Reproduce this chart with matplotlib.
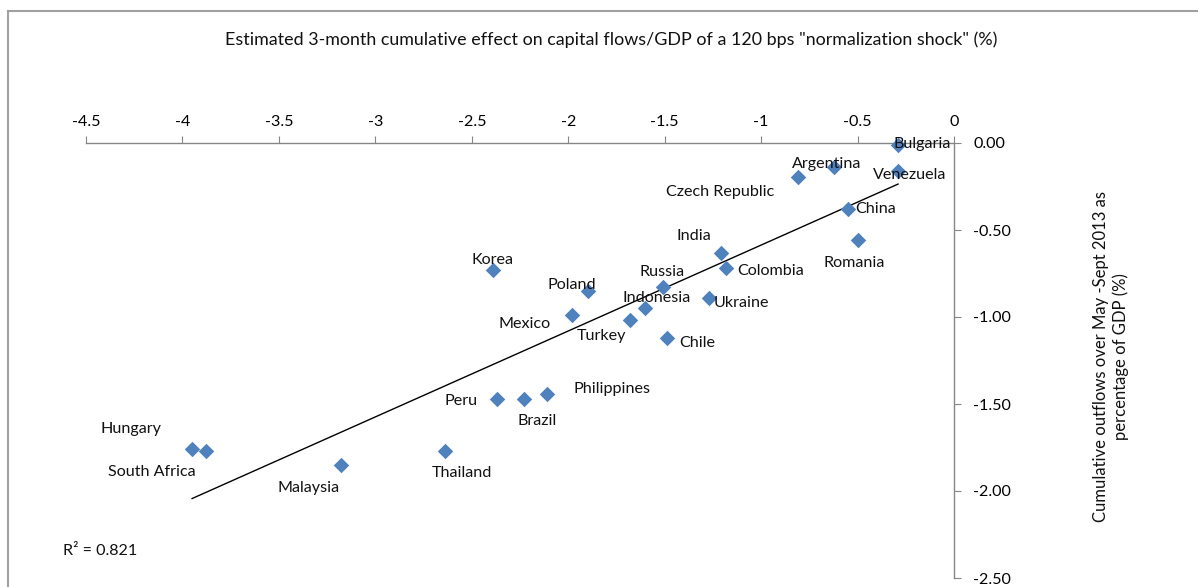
import matplotlib
matplotlib.use("Agg")
import matplotlib.pyplot as plt
from matplotlib.lines import Line2D
import numpy as np

plt.rcParams['font.family'] = ['Lato', 'DejaVu Sans']

countries = ["Bulgaria", "Venezuela", "Argentina", "Czech Republic", "China", "Romania",
             "India", "Colombia", "Russia", "Ukraine", "Indonesia", "Turkey", "Chile",
             "Poland", "Korea", "Mexico", "Philippines", "Brazil", "Peru", "Thailand",
             "Malaysia", "Hungary", "South Africa"]
shock_effect = [-0.29, -0.29, -0.62, -0.81, -0.55, -0.50,
                -1.21, -1.18, -1.51, -1.27, -1.60, -1.68, -1.49,
                -1.90, -2.39, -1.98, -2.11, -2.23, -2.37, -2.64,
                -3.18, -3.95, -3.88]
outflows = [-0.01, -0.16, -0.14, -0.195, -0.38, -0.56,
            -0.63, -0.72, -0.83, -0.89, -0.95, -1.02, -1.12,
            -0.85, -0.73, -0.99, -1.44, -1.47, -1.47, -1.77,
            -1.85, -1.76, -1.77]
x_ticks = [-4.5, -4, -3.5, -3, -2.5, -2, -1.5, -1, -0.5, 0]
x_tick_labels = ["-4.5", "-4", "-3.5", "-3", "-2.5", "-2", "-1.5", "-1", "-0.5", "0"]
y_ticks = [0.0, -0.5, -1.0, -1.5, -2.0, -2.5]
y_tick_labels = ["0.00", "-0.50", "-1.00", "-1.50", "-2.00", "-2.50"]
r2_text = "R² = 0.821"

# label offsets in pixels (dx, dy; dy positive = up)
label_offsets = {
    "Bulgaria": (24, 1), "Venezuela": (12, -4), "Argentina": (-8, 3),
    "Czech Republic": (-78, -15), "China": (28, 0), "Romania": (-3, -23),
    "India": (-27, 17), "Colombia": (44, -3), "Russia": (-1, 15),
    "Ukraine": (32, -5), "Indonesia": (11, 10), "Turkey": (-28, -16),
    "Chile": (31, -5), "Poland": (-16, 6), "Korea": (0, 10),
    "Mexico": (-48, -9), "Philippines": (65, 5), "Brazil": (13, -22),
    "Peru": (-36, -2), "Thailand": (17, -22), "Malaysia": (-32, -23),
    "Hungary": (-61, 20), "South Africa": (-54, -21),
}

W, H = 1198, 587
fig = plt.figure(figsize=(W / 100, H / 100), dpi=100)
ax = fig.add_axes([86 / W, 1 - 578 / H, (954 - 86) / W, (578 - 143) / H])

ax.set_xlim(-4.5, 0)
ax.set_ylim(-2.5, 0)

blue = "#4F81BD"
ax.scatter(shock_effect, outflows, marker="D", s=62, color=blue, zorder=3, clip_on=False,
           linewidths=0)

# linear trend line
xa = np.array(shock_effect)
ya = np.array(outflows)
slope, intercept = np.polyfit(xa, ya, 1)
xl = np.array([xa.min(), xa.max()])
ax.plot(xl, slope * xl + intercept, color="black", lw=1.0, zorder=2, clip_on=False)

for c, xv, yv in zip(countries, shock_effect, outflows):
    dx, dy = label_offsets[c]
    ax.annotate(c, (xv, yv), xytext=(dx, dy), textcoords="offset pixels",
                ha="center", va="center", fontsize=11.6, color="#111111", zorder=4,
                annotation_clip=False)

for s in ["left", "bottom"]:
    ax.spines[s].set_visible(False)
for s in ["top", "right"]:
    ax.spines[s].set_color("#868686")
    ax.spines[s].set_linewidth(1.0)

ax.xaxis.tick_top()
ax.yaxis.tick_right()
ax.set_xticks(x_ticks)
ax.set_xticklabels(x_tick_labels)
ax.set_yticks(y_ticks)
ax.set_yticklabels(y_tick_labels)
ax.tick_params(axis="x", direction="out", length=5, color="#868686", labelsize=11.6, pad=5)
ax.tick_params(axis="y", direction="out", length=5, color="#868686", labelsize=11.6, pad=9)

fig.text(611 / W, 1 - 40 / H,
         'Estimated 3-month cumulative effect on capital flows/GDP of a 120 bps "normalization shock" (%)',
         ha="center", va="center", fontsize=12.9, color="#111111")
fig.text(1111 / W, 1 - 357 / H,
         "Cumulative outflows over May -Sept 2013 as\npercentage of GDP (%)",
         ha="center", va="center", rotation=90, fontsize=12.0, color="#111111",
         multialignment="center", linespacing=1.3)
fig.text(63 / W, 1 - 551 / H, r2_text, ha="left", va="center", fontsize=11.6, color="#111111")

# chart frame (top and left edges)
fig.add_artist(Line2D([8 / W, 8 / W], [0, 1 - 11 / H], transform=fig.transFigure,
                      color="#A0A0A0", lw=1.5))
fig.add_artist(Line2D([8 / W, 1], [1 - 11 / H, 1 - 11 / H], transform=fig.transFigure,
                      color="#A0A0A0", lw=1.5))

fig.savefig("out.png", dpi=100)
